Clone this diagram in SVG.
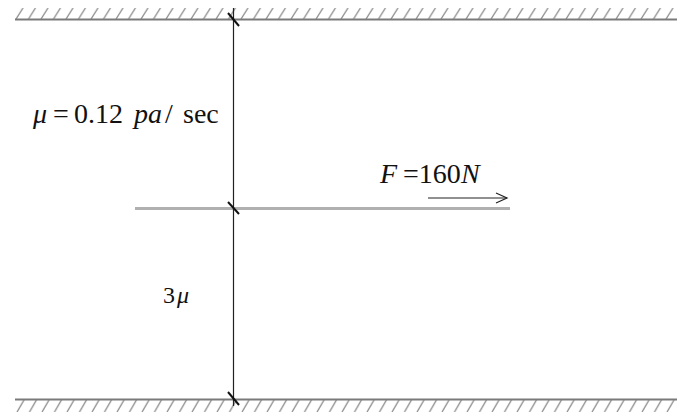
<svg xmlns="http://www.w3.org/2000/svg" width="677" height="414" viewBox="0 0 677 414">
<defs>
<style>
.wall{stroke:#7a7a7a;stroke-width:2;fill:none}
.hatch{stroke:#8a8a8a;stroke-width:1.3;fill:none}
.tick{stroke:#111;stroke-width:2;fill:none}
.dim{stroke:#222;stroke-width:1.2;fill:none}
.plate{stroke:#b0b0b0;stroke-width:3;fill:none}
.t{font-family:"Liberation Serif","Times New Roman",serif;font-size:28px;fill:#111}
.s{font-size:24px}
.i{font-style:italic}
</style>
<pattern id="hTop" x="15" y="8" width="12.5" height="11" patternUnits="userSpaceOnUse">
<line x1="1" y1="11" x2="8" y2="0" class="hatch"/>
</pattern>
<pattern id="hBot" x="15" y="400" width="12.5" height="12" patternUnits="userSpaceOnUse">
<line x1="9" y1="0" x2="2" y2="12" class="hatch"/>
</pattern>
<marker id="openArrow" markerWidth="14" markerHeight="12" refX="12" refY="6" orient="auto" markerUnits="userSpaceOnUse">
<path d="M1,1 L12,6 L1,11" fill="none" stroke="#222" stroke-width="1.2"/>
</marker>
</defs>
<g id="top-wall">
<rect x="15" y="8" width="662" height="11" fill="url(#hTop)"/>
<line x1="15" y1="19.5" x2="677" y2="19.5" class="wall"/>
</g>
<g id="bottom-wall">
<rect x="15" y="400" width="662" height="12" fill="url(#hBot)"/>
<line x1="15" y1="399.5" x2="677" y2="399.5" class="wall"/>
</g>
<g id="plate">
<line x1="135" y1="208.5" x2="510" y2="208.5" class="plate"/>
</g>
<g id="connectors">
<line x1="233.5" y1="8" x2="233.5" y2="406" class="dim"/>
<line x1="228" y1="13" x2="239" y2="26" class="tick"/>
<line x1="228" y1="202" x2="239" y2="214" class="tick"/>
<line x1="228" y1="392" x2="239" y2="405" class="tick"/>
<line x1="428" y1="198" x2="507" y2="198" class="dim" marker-end="url(#openArrow)"/>
</g>
<g id="label-mu">
<text y="123" class="t"><tspan x="33" class="i">μ</tspan><tspan x="53">=</tspan><tspan x="74">0.12</tspan><tspan x="134" class="i">pa</tspan><tspan x="165">/</tspan><tspan x="183">sec</tspan></text>
</g>
<g id="label-force">
<text y="183" class="t"><tspan x="380" class="i">F</tspan><tspan x="403">=160</tspan><tspan x="461" class="i">N</tspan></text>
</g>
<g id="label-3mu">
<text x="163" y="303" class="t s">3<tspan class="i" dx="2">μ</tspan></text>
</g>
</svg>
